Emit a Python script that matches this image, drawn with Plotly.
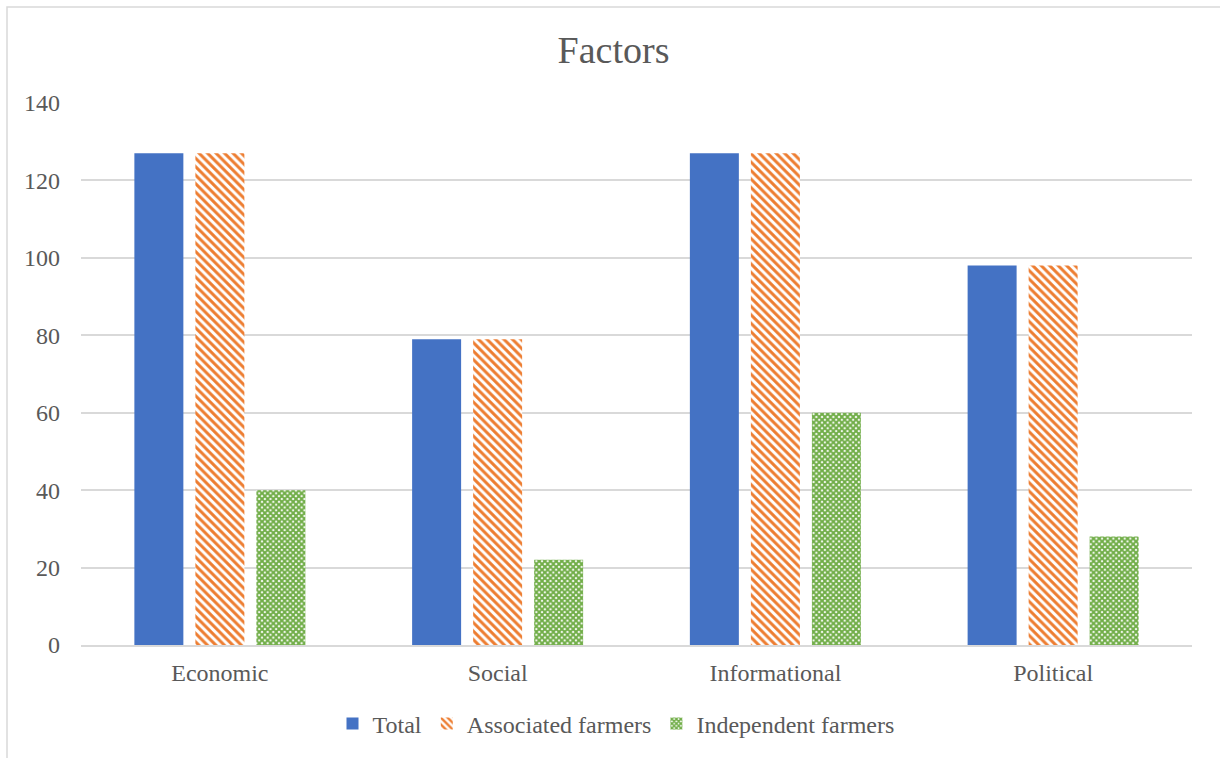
import plotly.graph_objects as go

# Chart data
categories = ["Economic", "Social", "Informational", "Political"]
total = [127, 79, 127, 98]
associated = [127, 79, 127, 98]
independent = [40, 22, 60, 28]

# Page and plot-area geometry in pixels
W, H = 1220, 758
PL, PR, PT, PB = 81, 1192, 103, 645  # plot area edges
TEXT = "#595959"
GRID = "#d9d9d9"
FONT = "Liberation Serif, Times New Roman, serif"
FS = 24

fig = go.Figure()
fig.add_trace(go.Bar(
    name="Total", x=categories, y=total,
    marker=dict(color="#4472C4", line=dict(width=0)),
))
fig.add_trace(go.Bar(
    name="Associated farmers", x=categories, y=associated,
    marker=dict(color="white", line=dict(width=0),
                pattern=dict(shape="\\", size=6, solidity=0.5,
                             fgcolor="#ED7D31", bgcolor="white",
                             fgopacity=1)),
))
fig.add_trace(go.Bar(
    name="Independent farmers", x=categories, y=independent,
    marker=dict(color="white", line=dict(width=0),
                pattern=dict(shape="x", size=4, solidity=0.75,
                             fgcolor="#70AD47", bgcolor="white",
                             fgopacity=1)),
))

pw = PR - PL
ph = PB - PT

def px_x(p):
    return (p - PL) / pw

def px_y(p):
    return (PB - p) / ph

# Light outer frame of the chart (top and left edges visible)
fig.add_shape(type="rect", xref="paper", yref="paper",
              x0=px_x(7), x1=px_x(W + 20), y0=px_y(H + 20), y1=px_y(7),
              line=dict(color=GRID, width=1.5), fillcolor="rgba(0,0,0,0)",
              layer="below")

fig.update_layout(
    width=W, height=H,
    margin=dict(l=PL, r=W - PR, t=PT, b=H - PB, pad=0),
    paper_bgcolor="white", plot_bgcolor="white",
    font=dict(family=FONT, color=TEXT, size=FS),
    title=dict(text="Factors", x=613.5 / W, xref="container", xanchor="center",
               y=1 - 50 / H, yref="container", yanchor="middle",
               font=dict(size=38, color=TEXT, family=FONT)),
    barmode="group", bargap=0.341, bargroupgap=0.197,
    showlegend=True,
    legend=dict(orientation="h", x=px_x(616), xanchor="center",
                y=px_y(724), yanchor="middle",
                font=dict(size=FS, color=TEXT, family=FONT),
                itemwidth=30, traceorder="normal",
                bgcolor="rgba(0,0,0,0)"),
    xaxis=dict(showgrid=False, showline=True, linecolor=GRID, linewidth=1.5,
               ticks="", ticklabelstandoff=5,
               tickfont=dict(size=FS, color=TEXT, family=FONT)),
    yaxis=dict(range=[0, 140], dtick=20, showgrid=True, gridcolor=GRID,
               gridwidth=1.5, zeroline=False, showline=False, ticks="",
               ticklabelstandoff=20,
               tickfont=dict(size=FS, color=TEXT, family=FONT)),
)

fig.write_html("out.html")
